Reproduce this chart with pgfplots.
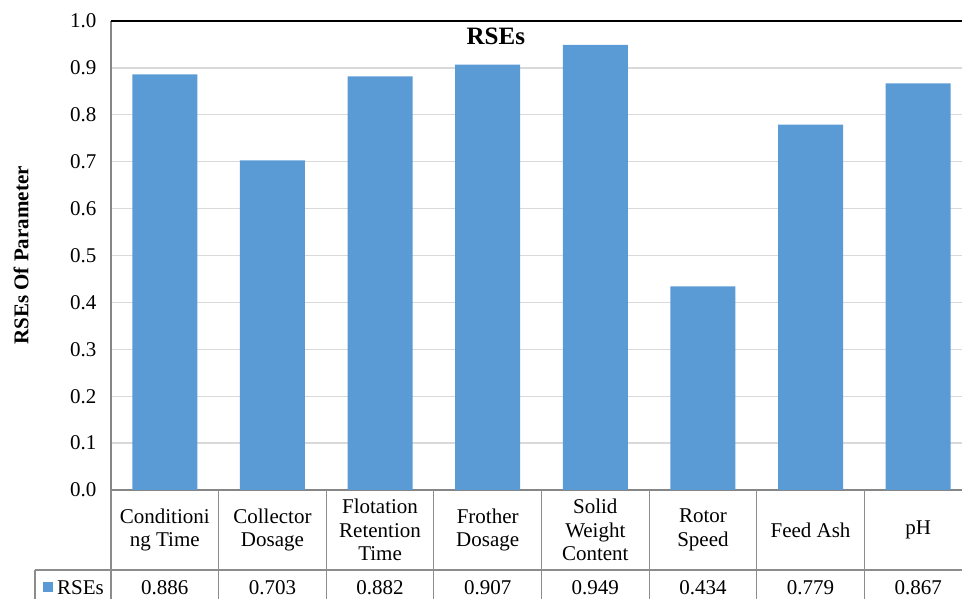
\documentclass[border=0pt]{standalone}
\usepackage{pgfplots}
\pgfplotsset{compat=1.18}
\usepackage{pgfplotstable}
\usepackage{fontspec}
\setmainfont{Liberation Serif}
\definecolor{barblue}{HTML}{5B9BD5}
\definecolor{gridgray}{HTML}{D9D9D9}
\definecolor{axgray}{HTML}{868686}
\definecolor{tabgray}{HTML}{8C8C8C}
\pgfplotstableread{
x v
0 0.886
1 0.703
2 0.882
3 0.907
4 0.949
5 0.434
6 0.779
7 0.867
}\rsedata
\begin{document}
\begin{tikzpicture}
\path[use as bounding box] (0,0) rectangle (962pt,599pt);
\clip (0,0) rectangle (962pt,599pt);
\begin{axis}[
  at={(111pt,109pt)}, anchor=south west,
  scale only axis, width=861pt, height=469pt,
  xmin=-0.5, xmax=7.5, ymin=0, ymax=1,
  clip=false,
  axis x line*=bottom, axis y line*=left,
  x axis line style={draw=axgray, line width=1.5pt, -},
  y axis line style={draw=axgray, line width=1.5pt, -},
  major tick length=0pt,
  ytick={0,0.1,0.2,0.3,0.4,0.5,0.6,0.7,0.8,0.9,1.0},
  ymajorgrids, grid style={gridgray, line width=1.3pt},
  yticklabel style={font=\fontsize{21}{24}\selectfont, anchor=east, xshift=-11pt,
    /pgf/number format/.cd, fixed, fixed zerofill, precision=1, assume math mode=true},
  xtick={0,...,7},
  xticklabels={Conditioni\\ng Time, Collector\\Dosage, Flotation\\Retention\\Time, Frother\\Dosage, Solid\\Weight\\Content, Rotor\\Speed, Feed Ash, pH},
  xticklabel style={font=\fontsize{21}{23.5}\selectfont, align=center, anchor=center, yshift=-40pt},
  ylabel={RSEs Of Parameter},
  ylabel style={font=\fontsize{21}{24}\selectfont\bfseries, at={(axis description cs:-0.1045,0.5)}, anchor=center},
  title={RSEs},
  title style={font=\fontsize{25}{28}\selectfont\bfseries, at={(axis description cs:0.447,0.955)}, anchor=center},
]
\addplot[ybar, bar width=65pt, fill=barblue, draw=none] table[x=x, y=v] {\rsedata};
\addplot[draw=none, mark=none, forget plot, nodes near coords,
  point meta=explicit,
  nodes near coords style={/pgf/number format/.cd, fixed, fixed zerofill, precision=3, assume math mode=true, /tikz/.cd, anchor=center, font=\fontsize{21}{24}\selectfont, inner sep=0pt}]
  table[x=x, y expr=-0.208, meta=v] {\rsedata};
\draw[black, line width=1.5pt] (axis cs:-0.5,1) -- (axis cs:8,1);
\pgfplotsinvokeforeach{-0.5,0.5,1.5,2.5,3.5,4.5,5.5,6.5,7.5}{
  \draw[tabgray, line width=1.2pt] (axis cs:#1,0) -- (axis cs:#1,-0.3);
}
\draw[tabgray, line width=1.2pt] (axis cs:-1.206,-0.1706) -- (axis cs:8,-0.1706);
\draw[tabgray, line width=1.2pt] (axis cs:-1.206,-0.1706) -- (axis cs:-1.206,-0.3);
\end{axis}
\fill[barblue] (43pt,7pt) rectangle (53pt,17pt);
\node[anchor=base west, inner sep=0pt, font=\fontsize{21}{24}\selectfont] at (57pt,4pt) {RSEs};
\end{tikzpicture}
\end{document}
